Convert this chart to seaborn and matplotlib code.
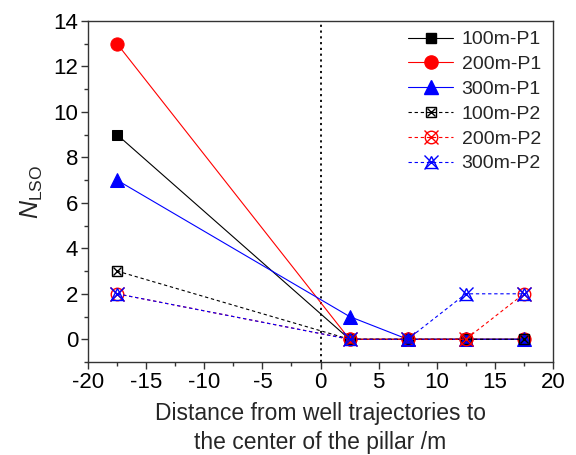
import matplotlib
matplotlib.use("Agg")
import matplotlib.pyplot as plt
import seaborn as sns
import pandas as pd
from matplotlib.lines import Line2D

x_vals = [-17.5, 2.5, 7.5, 12.5, 17.5]
p1_100 = [9, 0, 0, 0, 0]
p1_200 = [13, 0, 0, 0, 0]
p1_300 = [7, 1, 0, 0, 0]
p2_100 = [3, 0, 0, 0, 0]
p2_200 = [2, 0, 0, 0, 2]
p2_300 = [2, 0, 0, 2, 2]
labels = ["100m-P1", "200m-P1", "300m-P1", "100m-P2", "200m-P2", "300m-P2"]
xticks = [-20, -15, -10, -5, 0, 5, 10, 15, 20]
yticks = [0, 2, 4, 6, 8, 10, 12, 14]

sns.set_theme(style="ticks")
plt.rcParams['font.family'] = ['Liberation Sans', 'DejaVu Sans']
plt.rcParams['mathtext.fontset'] = 'custom'
plt.rcParams['mathtext.rm'] = 'Liberation Sans'
plt.rcParams['mathtext.it'] = 'Liberation Sans:italic'

fig = plt.figure(figsize=(5.76, 4.55), dpi=100)
ax = fig.add_axes([88/576, 1 - 362/455, (553-88)/576, (362-21)/455])

series = [p1_100, p1_200, p1_300, p2_100, p2_200, p2_300]
colors = ["black", "red", "blue", "black", "red", "blue"]
markers = ["s", "o", "^", "s", "o", "^"]
sizes = [7.5, 9.5, 10, 7.5, 9, 9]
handles = []
for i, (vals, lab) in enumerate(zip(series, labels)):
    df = pd.DataFrame({"x": x_vals, "y": vals})
    c = colors[i]
    if i < 3:
        sns.lineplot(data=df, x="x", y="y", ax=ax, color=c, lw=0.8,
                     marker=markers[i], markersize=sizes[i], markeredgecolor=c,
                     markerfacecolor=c, zorder=3)
        handles.append(Line2D([], [], color=c, lw=0.8, marker=markers[i],
                              markersize=sizes[i], markerfacecolor=c, markeredgecolor=c))
    else:
        sns.lineplot(data=df, x="x", y="y", ax=ax, color=c, lw=0.8, ls=(0, (3, 2.5)),
                     marker=markers[i], markersize=sizes[i], markeredgecolor=c,
                     markerfacecolor="none", markeredgewidth=1.0, zorder=4)
        sns.lineplot(data=df, x="x", y="y", ax=ax, color=c, lw=0, marker="x",
                     markersize=sizes[i] * (0.75 if i == 3 else 1.15),
                     markeredgecolor=c, markeredgewidth=1.0, zorder=4)
        h1 = Line2D([], [], color=c, lw=0.8, ls=(0, (3, 2.5)), marker=markers[i],
                    markersize=sizes[i], markerfacecolor="none", markeredgecolor=c)
        h2 = Line2D([], [], color=c, lw=0, marker="x",
                    markersize=sizes[i] * (0.75 if i == 3 else 1.15), markeredgecolor=c)
        handles.append((h1, h2))

ax.axvline(0, color="black", ls=(0, (1.2, 2)), lw=1.3, zorder=1)

ax.set_xlim(-20, 20)
ax.set_ylim(-1, 14)
ax.set_xticks(xticks)
ax.set_yticks(yticks)
ax.set_xticklabels([str(t) for t in xticks])
ax.set_yticklabels([str(t) for t in yticks])
ax.xaxis.set_minor_locator(matplotlib.ticker.MultipleLocator(2.5))
ax.yaxis.set_minor_locator(matplotlib.ticker.MultipleLocator(1))
ax.tick_params(which="major", direction="out", length=5, width=1, labelsize=16,
               pad=2, colors="#333333", labelcolor="black")
ax.tick_params(which="minor", direction="out", length=3, width=1, colors="#333333")
for s in ax.spines.values():
    s.set_linewidth(1.0)
    s.set_color("#333333")

ax.set_xlabel("Distance from well trajectories to\nthe center of the pillar /m",
              fontsize=16.5, labelpad=7, linespacing=1.3)
ax.set_ylabel(r"$N_{\mathrm{LSO}}$", fontsize=18, labelpad=6)

leg = ax.legend(handles, labels, loc="upper right", bbox_to_anchor=(0.995, 1.0),
                fontsize=14, frameon=False, borderaxespad=0, handlelength=2.3,
                labelspacing=0.37, borderpad=0.5, handletextpad=0.45)

fig.savefig("out.png", dpi=100)
